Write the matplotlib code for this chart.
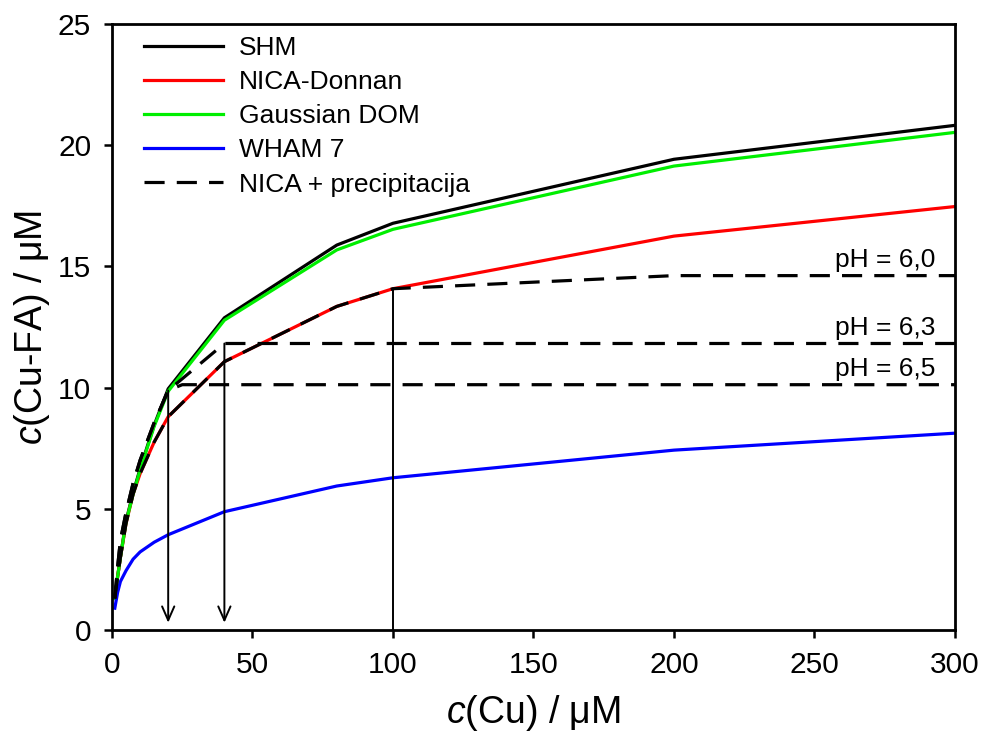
import matplotlib
matplotlib.use("Agg")
import matplotlib.pyplot as plt

plt.rcParams['font.family'] = ['Liberation Sans', 'DejaVu Sans']
plt.rcParams['mathtext.fontset'] = 'custom'
plt.rcParams['mathtext.rm'] = 'Liberation Sans'
plt.rcParams['mathtext.it'] = 'Liberation Sans:italic'

# total Cu (uM)
cu = [1, 2, 3, 5, 7.5, 10, 15, 20, 40, 80, 100, 200, 300]

# bound Cu-FA (uM) per model
shm = [1.3, 2.2, 3.0, 4.5, 5.65, 6.65, 8.45, 9.95, 12.88, 15.88, 16.78, 19.42, 20.82]
nica = [1.3, 2.2, 3.0, 4.4, 5.6, 6.45, 7.75, 8.8, 11.07, 13.35, 14.08, 16.25, 17.47]
gauss = [1.3, 2.2, 3.0, 4.45, 5.6, 6.6, 8.4, 9.85, 12.78, 15.68, 16.53, 19.14, 20.53]
wham = [0.9, 1.55, 2.0, 2.45, 2.92, 3.22, 3.62, 3.93, 4.88, 5.94, 6.28, 7.42, 8.12]

# NICA + precipitation
cu_60 = [1, 2, 3, 5, 7.5, 10, 15, 20, 40, 80, 100, 200, 300]
prec_60 = [1.3, 2.2, 3.0, 4.4, 5.6, 6.45, 7.75, 8.8, 11.07, 13.35, 14.08, 14.62, 14.62]
cu_63 = [1, 2, 3, 5, 7.5, 10, 15, 20, 40, 300]
prec_63 = [1.3, 2.6, 3.7, 4.85, 6.05, 7.0, 8.55, 9.88, 11.82, 11.82]
cu_65 = [1, 2, 3, 5, 7.5, 10, 15, 20, 25, 300]
prec_65 = [1.3, 2.6, 3.7, 4.85, 6.05, 7.0, 8.55, 9.88, 10.12, 10.12]

# precipitation onset markers
arrow_x = [20, 40]
arrow_top = [9.88, 11.82]
onset_60 = 100
ph_labels = ["pH = 6,0", "pH = 6,3", "pH = 6,5"]
ph_label_y = [15.25, 12.45, 10.78]

fig = plt.figure(figsize=(9.85, 7.37), dpi=100)
ax = fig.add_axes([0.1137, 0.1452, 0.8558, 0.8222])

lw = 2.3
ax.plot(cu, shm, color='black', lw=lw, label='SHM')
ax.plot(cu, nica, color='#ff0000', lw=lw, label='NICA-Donnan')
ax.plot(cu, gauss, color='#00ee00', lw=lw, label='Gaussian DOM')
ax.plot(cu, wham, color='#0000ff', lw=lw, label='WHAM 7')

dash = (6.3, 3.8)
ax.plot(cu_60, prec_60, color='black', lw=lw, dashes=dash, label='NICA + precipitacija')
ax.plot(cu_63, prec_63, color='black', lw=lw, dashes=dash)
ax.plot(cu_65, prec_65, color='black', lw=lw, dashes=dash)

for xa, ya in zip(arrow_x, arrow_top):
    ax.annotate('', xy=(xa, 0.3), xytext=(xa, ya),
                arrowprops=dict(arrowstyle='->,head_length=0.5,head_width=0.22',
                                lw=1.4, color='black', mutation_scale=20,
                                shrinkA=0, shrinkB=0))
ax.plot([onset_60, onset_60], [0, prec_60[cu_60.index(onset_60)]], color='black', lw=1.4)

for txt, yy in zip(ph_labels, ph_label_y):
    ax.text(275, yy, txt, fontsize=19, ha='center', va='center')

ax.set_xlim(0, 300)
ax.set_ylim(0, 25)
ax.set_xticks(range(0, 301, 50))
ax.set_yticks(range(0, 26, 5))
ax.tick_params(direction='out', length=6, width=1.8, labelsize=21.5, pad=9,
               top=False, right=False)
for s in ax.spines.values():
    s.set_linewidth(2.0)

ax.set_xlabel(r'$c$(Cu) / μM', fontsize=27, labelpad=10)
ax.set_ylabel(r'$c$(Cu-FA) / μM', fontsize=27, labelpad=4)

ax.legend(loc='upper left', bbox_to_anchor=(0.025, 0.997), frameon=False,
          fontsize=19, handlelength=3.0, handletextpad=0.6,
          labelspacing=0.38, borderpad=0.4, borderaxespad=0.0)

fig.savefig('out.png', dpi=100)
